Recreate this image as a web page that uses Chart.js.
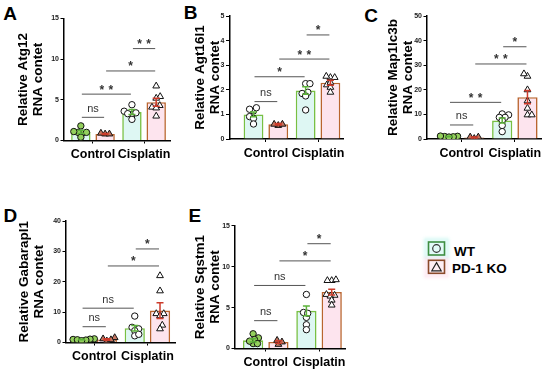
<!DOCTYPE html>
<html><head><meta charset="utf-8">
<script src="https://cdn.jsdelivr.net/npm/chart.js"></script>
<style>
html,body{margin:0;padding:0;background:#fff;}
body{width:550px;height:374px;position:relative;overflow:hidden;font-family:"Liberation Sans",Arial,sans-serif;}
canvas{position:absolute;}
.plet{position:absolute;font-weight:bold;font-size:19px;line-height:19px;color:#000;}
.ltxt{position:absolute;font-weight:bold;font-size:13.5px;line-height:14px;color:#000;white-space:nowrap;}
</style></head><body>
<div class="plet" style="left:3.3px;top:4.2px">A</div>
<div class="plet" style="left:183.7px;top:2.5px">B</div>
<div class="plet" style="left:364.2px;top:5.8px">C</div>
<div class="plet" style="left:3.6px;top:205.8px">D</div>
<div class="plet" style="left:188.6px;top:205.8px">E</div>
<canvas id="cA"></canvas><canvas id="cB"></canvas><canvas id="cC"></canvas><canvas id="cD"></canvas><canvas id="cE"></canvas>
<div style="position:absolute;left:425px;top:239px;width:23px;height:19px;background:rgba(190,245,238,0.45);box-shadow:0 0 3px 1px rgba(190,245,238,0.6)"></div>
<div style="position:absolute;left:425px;top:258px;width:23px;height:19px;background:rgba(253,222,236,0.5);box-shadow:0 0 3px 1px rgba(253,222,236,0.6)"></div>
<svg style="position:absolute;left:426px;top:240px" width="22" height="36">
  <rect x="2.5" y="2" width="16" height="13" fill="none" stroke="#3e8e41" stroke-width="1.6"/>
  <circle cx="10.5" cy="8.5" r="3.8" fill="none" stroke="#333" stroke-width="1.2"/>
  <rect x="2.5" y="20.3" width="16" height="13" fill="none" stroke="#8b4a2b" stroke-width="1.6"/>
  <polygon points="10.5,22.6 15.2,30.8 5.8,30.8" fill="none" stroke="#222" stroke-width="1.2"/>
</svg>
<div class="ltxt" style="left:454px;top:245px">WT</div>
<div class="ltxt" style="left:452px;top:261.6px">PD-1 KO</div>
<script>
// ---------------- data ----------------
const groups = ['Control', 'Cisplatin'];
const seriesNames = ['WT', 'PD-1 KO'];

// A: Atg12
const A_wtMean = [1.05, 3.5];
const A_koMean = [0.8, 4.7];
const A_wtSem = [0.2, 0.3];
const A_koSem = [0.05, 0.5];
const A_wtCtrl = [0.9, 1.0, 1.0, 1.1, 1.8, 0.4];
const A_wtCis = [4.4, 3.6, 3.2, 3.4, 3.3, 2.6];
const A_koCtrl = [0.8, 0.9, 0.8];
const A_koCis = [6.7, 5.4, 5.2, 4.3, 4.1, 4.0, 3.0];
const A_sig = [[0, 1, 2.85, 'ns'], [0, 2, 5.7, '**'], [1, 3, 8.55, '*'], [2, 3, 11.3, '**']];

// B: Agt16l1
const B_wtMean = [1.0, 1.97];
const B_koMean = [0.6, 2.29];
const B_wtSem = [0.1, 0.15];
const B_koSem = [0.03, 0.1];
const B_wtCtrl = [1.14, 1.21, 1.27, 0.91, 0.84, 0.61];
const B_wtCis = [2.25, 2.25, 1.9, 1.85, 1.75, 1.18];
const B_koCtrl = [0.55, 0.6, 0.6];
const B_koCis = [2.5, 2.55, 2.5, 2.2, 2.3, 2.1, 1.9];
const B_sig = [[0, 1, 1.52, 'ns'], [0, 2, 2.53, '*'], [1, 3, 3.25, '**'], [2, 3, 4.23, '*']];

// C: Map1lc3b
const C_wtMean = [1.0, 7.5];
const C_koMean = [0.6, 17.0];
const C_wtSem = [0.1, 1.0];
const C_koSem = [0.2, 2.7];
const C_wtCtrl = [1.0, 1.1, 0.9, 1.2, 0.8];
const C_wtCis = [10.2, 9.8, 8.8, 8.8, 7.5, 5.5, 3.0];
const C_koCtrl = [0.2, 0.8, 0.8];
const C_koCis = [25.5, 26.5, 20, 15.5, 12.5, 9.8, 9.8];
const C_sig = [[0, 1, 5.7, 'ns'], [0, 2, 14.9, '**'], [1, 3, 30.5, '**'], [2, 3, 37.5, '*']];

// D: Gabarapl1
const D_wtMean = [1.0, 4.7];
const D_koMean = [1.0, 10.5];
const D_wtSem = [0.1, 0.9];
const D_koSem = [0.25, 2.6];
const D_wtCtrl = [1.2, 1.0, 0.9, 1.1, 0.8, 0.6];
const D_wtCis = [8.7, 5.0, 4.5, 3.9, 2.2, 2.7];
const D_koCtrl = [0.5, 1.2, 1.6, 0.9];
const D_koCis = [22, 17, 9.5, 9.5, 8.8, 5.7, 4.5];
const D_sig = [[0, 1, 5.2, 'ns'], [0, 2, 11.3, 'ns'], [1, 3, 25.2, '*'], [2, 3, 30.8, '*']];

// E: Sqstm1
const E_wtMean = [1.0, 4.6];
const E_koMean = [0.8, 6.9];
const E_wtSem = [0.2, 0.6];
const E_koSem = [0.15, 0.35];
const E_wtCtrl = [0.6, 1.3, 1.8, 1.1, 0.9, 0.6];
const E_wtCis = [6.6, 4.4, 3.8, 4.3, 2.9, 2.3];
const E_koCtrl = [0.5, 1.0, 0.8];
const E_koCis = [8.3, 8.4, 8.3, 6.5, 6.6, 6.4, 5.9, 5.3];
const E_sig = [[0, 1, 3.4, 'ns'], [0, 2, 7.7, 'ns'], [1, 3, 10.7, '*'], [2, 3, 12.8, '*']];

// ---------------- styles / layout ----------------
Chart.defaults.font.family = "'Liberation Sans', Arial, sans-serif";
const CP = 0.95, BP = 0.8, OFF = CP / 4;
const WT_FILL = '#def7f3', WT_LINE = '#78c043', WT_ERR = '#5cb23a';
const KO_FILL = '#fde4ee', KO_LINE = '#b9652f', KO_ERR = '#cc3b2b';
const GREEN_PT = '#93cf5c', BROWN_PT = '#c57560';

const panels = [
  { id: 'cA', title: ['Relative Atg12', 'RNA contet'], ymax: 15, step: 5,
    lay: { axisX: 64, right: 172, top: 18.5, zero: 140.5, titleX: 23, g0: 93.5, g1: 145.5 },
    wtMean: A_wtMean, koMean: A_koMean, wtSem: A_wtSem, koSem: A_koSem,
    pts: [A_wtCtrl, A_wtCis, A_koCtrl, A_koCis], sig: A_sig, ctrlWtFill: GREEN_PT },
  { id: 'cB', title: ['Relative Agt16l1', 'RNA contet'], ymax: 5, step: 1,
    lay: { axisX: 229.5, right: 345, top: 16, zero: 139, titleX: 200.5, g0: 266.5, g1: 319.5 },
    wtMean: B_wtMean, koMean: B_koMean, wtSem: B_wtSem, koSem: B_koSem,
    pts: [B_wtCtrl, B_wtCis, B_koCtrl, B_koCis], sig: B_sig, ctrlWtFill: '#ffffff' },
  { id: 'cC', title: ['Relative Map1lc3b', 'RNA contet'], ymax: 50, step: 10,
    lay: { axisX: 427, right: 543, top: 16, zero: 139, titleX: 393, g0: 462.2, g1: 516.3 },
    wtMean: C_wtMean, koMean: C_koMean, wtSem: C_wtSem, koSem: C_koSem,
    pts: [C_wtCtrl, C_wtCis, C_koCtrl, C_koCis], sig: C_sig, ctrlWtFill: GREEN_PT },
  { id: 'cD', title: ['Relative Gabarapl1', 'RNA contet'], ymax: 40, step: 10,
    lay: { axisX: 66, right: 177, top: 221, zero: 342.5, titleX: 24, g0: 94.7, g1: 148.8 },
    wtMean: D_wtMean, koMean: D_koMean, wtSem: D_wtSem, koSem: D_koSem,
    pts: [D_wtCtrl, D_wtCis, D_koCtrl, D_koCis], sig: D_sig, ctrlWtFill: GREEN_PT },
  { id: 'cE', title: ['Relative Sqstm1', 'RNA contet'], ymax: 15, step: 5,
    lay: { axisX: 235, right: 347, top: 225.7, zero: 348.5, titleX: 200, g0: 266.3, g1: 320.5 },
    wtMean: E_wtMean, koMean: E_koMean, wtSem: E_wtSem, koSem: E_koSem,
    pts: [E_wtCtrl, E_wtCis, E_koCtrl, E_koCis], sig: E_sig, ctrlWtFill: GREEN_PT }
];

function applySwarm(chart) {
  const xs = chart.scales.x, ys = chart.scales.y;
  const D = 4.3;
  chart.data.datasets.forEach(ds => {
    if (!ds.swarm) return;
    const base = xs.getPixelForValue(ds.swarm.g + ds.swarm.s * OFF);
    const vals = ds.data.map(pt => pt.y);
    const order = vals.map((v, i) => i).sort((a, b) => vals[a] - vals[b]);
    const placed = [];
    let flip = 1;
    order.forEach(i => {
      const py = ys.getPixelForValue(vals[i]);
      const cands = [base];
      placed.forEach(q => {
        const dy = Math.abs(q.y - py);
        if (dy < D) { const dx = Math.sqrt(D * D - dy * dy); cands.push(q.x - dx, q.x + dx); }
      });
      const ok = cands.filter(c => placed.every(q => {
        const dy = q.y - py, dx = q.x - c; return dx * dx + dy * dy >= D * D - 0.01;
      }));
      ok.sort((a, b) => {
        const d = Math.abs(a - base) - Math.abs(b - base);
        if (Math.abs(d) > 0.01) return d;
        return flip * (a - b);
      });
      flip = -flip;
      const px = ok[0];
      placed.push({ x: px, y: py });
      ds.data[i].x = xs.getValueForPixel(px);
    });
  });
  chart.update('none');
}

function makePanel(p) {
  const L = p.lay;
  const lh = 15, xAxisH = 26;
  const cLeftF = L.titleX - lh / 2;
  const cl = Math.floor(cLeftF);
  const padL = cLeftF - cl;
  const ct = Math.floor(L.top - 6);
  const padT = L.top - ct;
  const W = Math.ceil(L.right + 3 - cl);
  const padR = W - (L.right - cl);
  const H = Math.ceil(L.zero + xAxisH - ct);
  const padB = H - (L.zero + xAxisH - ct);
  const yW = L.axisX - cLeftF;
  const unit = L.g1 - L.g0;
  const xmin = -(L.g0 - L.axisX) / unit;
  const xmax = 1 + (L.right - L.g1) / unit;

  const cv = document.getElementById(p.id);
  cv.width = W; cv.height = H;
  cv.style.left = cl + 'px'; cv.style.top = ct + 'px';
  cv.style.width = W + 'px'; cv.style.height = H + 'px';

  const mk = arr => arr.map((v, i) => ({ x: i, y: v }));
  const ptDs = (arr, g, s, style, fill, r) => ({
    type: 'scatter', data: arr.map(v => ({ x: g + s * OFF, y: v })), swarm: { g, s },
    pointStyle: style, pointRadius: r, pointHoverRadius: r, pointBackgroundColor: fill,
    pointBorderColor: '#111', pointBorderWidth: 1, order: 1
  });

  const annot = {
    id: 'annot',
    afterDatasetsDraw(chart) {
      const ctx = chart.ctx, ys = chart.scales.y;
      [[0, p.wtMean, p.wtSem, WT_ERR], [1, p.koMean, p.koSem, KO_ERR]].forEach(([d, m, s, col]) => {
        const meta = chart.getDatasetMeta(d);
        meta.data.forEach((bar, i) => {
          const x = bar.x, y1 = ys.getPixelForValue(m[i] + s[i]), y2 = ys.getPixelForValue(m[i] - s[i]);
          ctx.save();
          ctx.strokeStyle = col; ctx.lineWidth = 1.5;
          ctx.beginPath();
          ctx.moveTo(x, y1); ctx.lineTo(x, y2);
          ctx.moveTo(x - 3.5, y1); ctx.lineTo(x + 3.5, y1);
          ctx.moveTo(x - 3.5, y2); ctx.lineTo(x + 3.5, y2);
          ctx.stroke();
          ctx.restore();
        });
      });
      const barX = k => chart.getDatasetMeta(k % 2).data[Math.floor(k / 2)].x;
      p.sig.forEach(([a, b, yv, lab]) => {
        const x1 = barX(a) + 1, x2 = barX(b) - 1, y = ys.getPixelForValue(yv);
        ctx.save();
        ctx.strokeStyle = '#555'; ctx.lineWidth = 1;
        ctx.beginPath(); ctx.moveTo(x1, y); ctx.lineTo(x2, y); ctx.stroke();
        ctx.fillStyle = '#333'; ctx.textAlign = 'center'; ctx.textBaseline = 'alphabetic';
        const xm = (x1 + x2) / 2;
        if (lab === 'ns') {
          ctx.font = "11px 'Liberation Sans', Arial, sans-serif";
          ctx.fillText(lab, xm, y - 5.5);
        } else {
          ctx.font = "bold 12px 'Liberation Sans', Arial, sans-serif";
          const n = lab.length, sp = 9;
          for (let i = 0; i < n; i++) ctx.fillText(lab[i], xm + (i - (n - 1) / 2) * sp, y - 0.5);
        }
        ctx.restore();
      });
    }
  };

  const chart = new Chart(cv, {
    type: 'bar',
    data: {
      datasets: [
        { type: 'bar', label: seriesNames[0], data: mk(p.wtMean), backgroundColor: WT_FILL, borderColor: WT_LINE,
          borderWidth: 1.6, barPercentage: BP, categoryPercentage: CP, order: 3 },
        { type: 'bar', label: seriesNames[1], data: mk(p.koMean), backgroundColor: KO_FILL, borderColor: KO_LINE,
          borderWidth: 1.6, barPercentage: BP, categoryPercentage: CP, order: 3 },
        ptDs(p.pts[0], 0, -1, 'circle', p.ctrlWtFill, 3.2),
        ptDs(p.pts[1], 1, -1, 'circle', '#ffffff', 3.2),
        ptDs(p.pts[2], 0, 1, 'triangle', BROWN_PT, 3.9),
        ptDs(p.pts[3], 1, 1, 'triangle', '#ffffff', 3.9)
      ]
    },
    options: {
      responsive: false, animation: false, devicePixelRatio: 1,
      layout: { padding: { left: padL, top: padT, right: padR, bottom: padB } },
      plugins: { legend: { display: false }, tooltip: { enabled: false }, title: { display: false } },
      scales: {
        x: {
          type: 'linear', min: xmin, max: xmax, offset: false,
          afterBuildTicks: s => { s.ticks = [{ value: 0 }, { value: 1 }]; },
          afterFit: s => { s.height = xAxisH; s.paddingLeft = 0; s.paddingRight = 0; },
          ticks: { callback: (v, i) => groups[i], font: { size: 12.5, weight: 'bold' }, color: '#000', padding: 4,
                   maxRotation: 0, minRotation: 0, autoSkip: false },
          grid: { drawOnChartArea: false, tickLength: 3, color: '#000', lineWidth: 1, offset: false },
          border: { color: '#000', width: 1.5 }
        },
        y: {
          min: 0, max: p.ymax,
          afterFit: s => { s.width = yW; s.paddingTop = 0; s.paddingBottom = 0; },
          title: { display: true, text: p.title, font: { size: 13.5, weight: 'bold', lineHeight: '15px' }, color: '#000', padding: 0 },
          ticks: { stepSize: p.step, font: { size: 7, weight: 'bold' }, color: '#222', padding: 1.5 },
          grid: { drawOnChartArea: false, tickLength: 3.5, color: '#000', lineWidth: 1 },
          border: { color: '#000', width: 1.5 }
        }
      }
    },
    plugins: [annot]
  });
  applySwarm(chart);
  return chart;
}

panels.forEach(makePanel);
</script>
</body></html>
